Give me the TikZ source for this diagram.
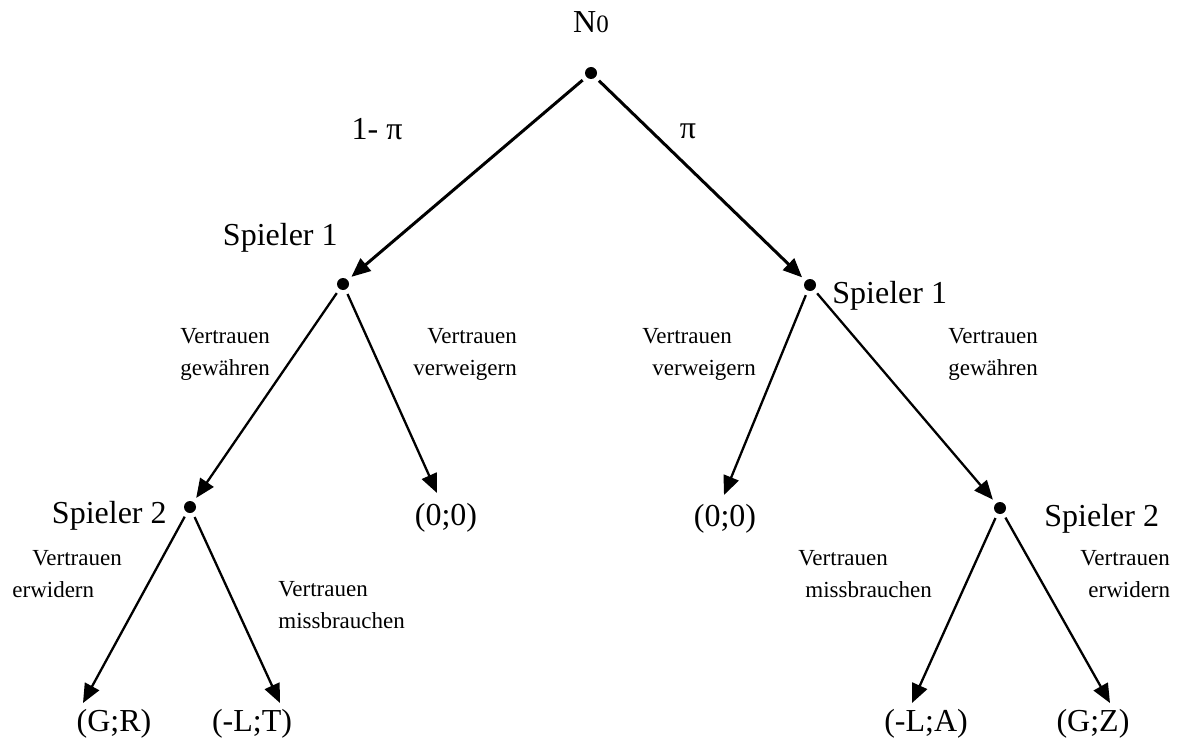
\documentclass[tikz,border=0pt]{standalone}
\usepackage{fontspec}
\setmainfont{Liberation Serif}
\usetikzlibrary{arrows.meta}

\begin{document}
\begin{tikzpicture}[x=0.5pt,y=-0.5pt,
  big/.style={font=\fontsize{16pt}{19pt}\selectfont, inner sep=0pt},
  small/.style={font=\fontsize{11.5pt}{16pt}\selectfont, inner sep=0pt, align=left},
  dot/.style={circle, fill=black, minimum size=6pt, inner sep=0pt, outer sep=2.5pt},
  edge/.style={line width=1.15pt, -{Triangle[length=9.5pt,width=8pt]}},
  topedge/.style={edge, line width=1.5pt}]
\useasboundingbox (0,0) rectangle (1183,738);

% decision nodes
\node[dot] (n0)  at (591,73)  {};
\node[dot] (s1l) at (343,284) {};
\node[dot] (s1r) at (810,285) {};
\node[dot] (s2l) at (190,507) {};
\node[dot] (s2r) at (1000,508) {};

% node names and probabilities
\node[big, anchor=base] (n0lab) at (591,33) {N{\fontsize{12.5pt}{15pt}\selectfont 0}};
\node[big, anchor=base] (pl) at (377,140) {1- π};
\node[big, anchor=base] (pr) at (688,139) {π};
\node[big, anchor=base east] (s1llab) at (338,245) {Spieler 1};
\node[big, anchor=base west] (s1rlab) at (832,303) {Spieler 1};
\node[big, anchor=base east] (s2llab) at (167,523) {Spieler 2};
\node[big, anchor=base west] (s2rlab) at (1044,526) {Spieler 2};

% payoffs
\node[big, anchor=base] (zl) at (446,525) {(0;0)};
\node[big, anchor=base] (zr) at (725,526) {(0;0)};
\node[big, anchor=base] (gr) at (114,731) {(G;R)};
\node[big, anchor=base] (lt) at (252,731) {(-L;T)};
\node[big, anchor=base] (la) at (926,731) {(-L;A)};
\node[big, anchor=base] (gz) at (1093,731) {(G;Z)};

% action labels (anchored at the baseline of their second line)
\node[small, anchor=base west] (a1) at (180,375) {Vertrauen\\gewähren};
\node[small, anchor=base west] (a2) at (413,375) {\hspace*{7pt}Vertrauen\\verweigern};
\node[small, anchor=base west] (a3) at (642,375) {Vertrauen\\\hspace*{5pt}verweigern};
\node[small, anchor=base west] (a4) at (948,375) {Vertrauen\\gewähren};
\node[small, anchor=base west] (a5) at (12,597) {\hspace*{10pt}Vertrauen\\erwidern};
\node[small, anchor=base west] (a6) at (278,628) {Vertrauen\\missbrauchen};
\node[small, anchor=base west] (a7) at (798,597) {Vertrauen\\\hspace*{3.5pt}missbrauchen};
\node[small, anchor=base west] (a8) at (1080,597) {Vertrauen\\\hspace*{4pt}erwidern};

% arrow ends above the payoffs
\coordinate (zl-tip) at (437,493);
\coordinate (zr-tip) at (724,495);
\coordinate (gr-tip) at (83,703);
\coordinate (lt-tip) at (280,703);
\coordinate (la-tip) at (912,703);
\coordinate (gz-tip) at (1110,703);

% branches
\draw[topedge] (n0) -- (s1l);
\draw[topedge] (n0) -- (s1r);
\draw[edge] (s1l) -- (s2l);
\draw[edge] (s1l) -- (zl-tip);
\draw[edge] (s1r) -- (zr-tip);
\draw[edge] (s1r) -- (s2r);
\draw[edge] (s2l) -- (gr-tip);
\draw[edge] (s2l) -- (lt-tip);
\draw[edge] (s2r) -- (la-tip);
\draw[edge] (s2r) -- (gz-tip);
\end{tikzpicture}
\end{document}
